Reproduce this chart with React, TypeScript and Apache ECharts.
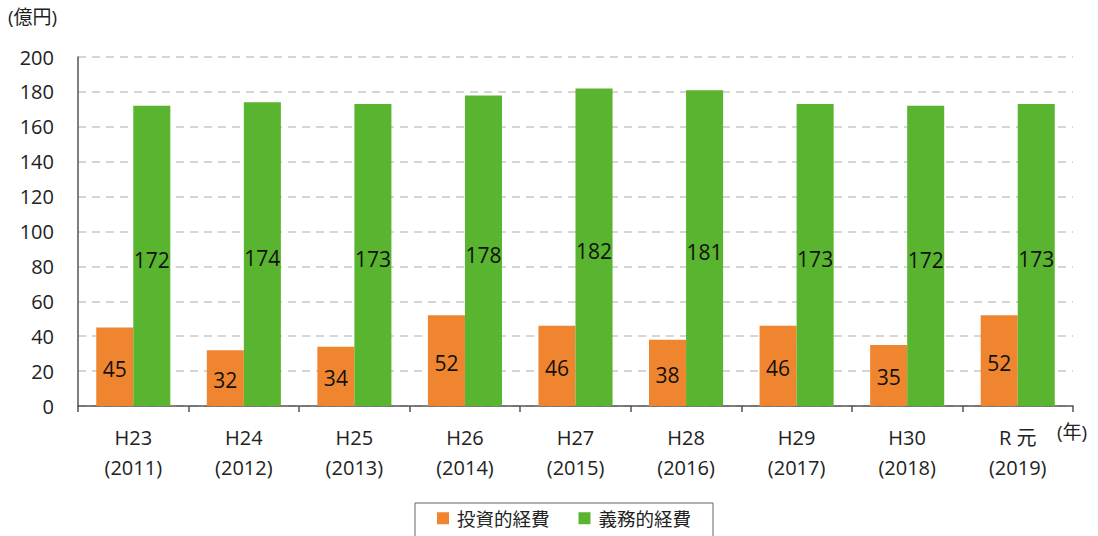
import React, { useEffect, useRef } from "react";
import * as echarts from "echarts";

const categories = [
  "H23\n(2011)",
  "H24\n(2012)",
  "H25\n(2013)",
  "H26\n(2014)",
  "H27\n(2015)",
  "H28\n(2016)",
  "H29\n(2017)",
  "H30\n(2018)",
  "R 元\n(2019)",
];
const investValues = [45, 32, 34, 52, 46, 38, 46, 35, 52];
const mandatoryValues = [172, 174, 173, 178, 182, 181, 173, 172, 173];
const seriesNames = ["投資的経費", "義務的経費"];
const yTicks = { min: 0, max: 200, interval: 20 };

const FONT = "'Open Sans', 'Noto Sans CJK JP', sans-serif";

export default function App() {
  const ref = useRef<HTMLDivElement>(null);
  useEffect(() => {
    document.body.style.margin = "0";
    const chart = echarts.init(ref.current!, undefined, { renderer: "svg" });
    chart.setOption({
      animation: false,
      textStyle: { fontFamily: FONT },
      grid: { left: 78, right: 25, top: 57, bottom: 130 },
      legend: {
        top: 503,
        left: 415,
        itemWidth: 12,
        itemHeight: 12,
        itemGap: 29,
        padding: [6, 22, 14, 22],
        borderColor: "#666",
        borderWidth: 1,
        icon: "rect",
        textStyle: { fontSize: 18.5, color: "#222", fontFamily: FONT, padding: [0, 0, 0, 3] },
        data: seriesNames,
      },
      xAxis: {
        type: "category",
        data: categories,
        axisLine: { lineStyle: { color: "#555", width: 1.5 } },
        axisTick: { show: true, length: 6, lineStyle: { color: "#555", width: 1.5 } },
        axisLabel: {
          fontSize: 20,
          color: "#222",
          lineHeight: 30,
          margin: 16,
          fontFamily: FONT,
        },
      },
      yAxis: {
        type: "value",
        min: yTicks.min,
        max: yTicks.max,
        interval: yTicks.interval,
        axisLine: { show: true, lineStyle: { color: "#555", width: 1.5 } },
        axisTick: { show: false },
        axisLabel: { fontSize: 20, color: "#222", margin: 24, fontFamily: FONT },
        splitLine: { lineStyle: { color: "#c8c8c8", type: [8, 6], width: 1.5 } },
      },
      series: [
        {
          name: seriesNames[0],
          type: "bar",
          data: investValues,
          barGap: "0%",
          barCategoryGap: "33%",
          itemStyle: { color: "#F0852F" },
          label: { show: true, position: "inside", offset: [0, 2], fontSize: 21, color: "#111", fontFamily: FONT },
        },
        {
          name: seriesNames[1],
          type: "bar",
          data: mandatoryValues,
          barGap: "0%",
          barCategoryGap: "33%",
          itemStyle: { color: "#59B52F" },
          label: { show: true, position: "inside", offset: [0, 4], fontSize: 21, color: "#111", fontFamily: FONT },
        },
      ],
      graphic: [
        {
          type: "text",
          left: 8,
          top: 7,
          style: { text: "(億円)", fontSize: 19, fill: "#222", fontFamily: FONT },
        },
        {
          type: "text",
          left: 1057,
          top: 422,
          style: { text: "(年)", fontSize: 19, fill: "#222", fontFamily: FONT },
        },
      ],
    });
    return () => chart.dispose();
  }, []);
  return <div ref={ref} style={{ width: 1098, height: 536 }} />;
}
